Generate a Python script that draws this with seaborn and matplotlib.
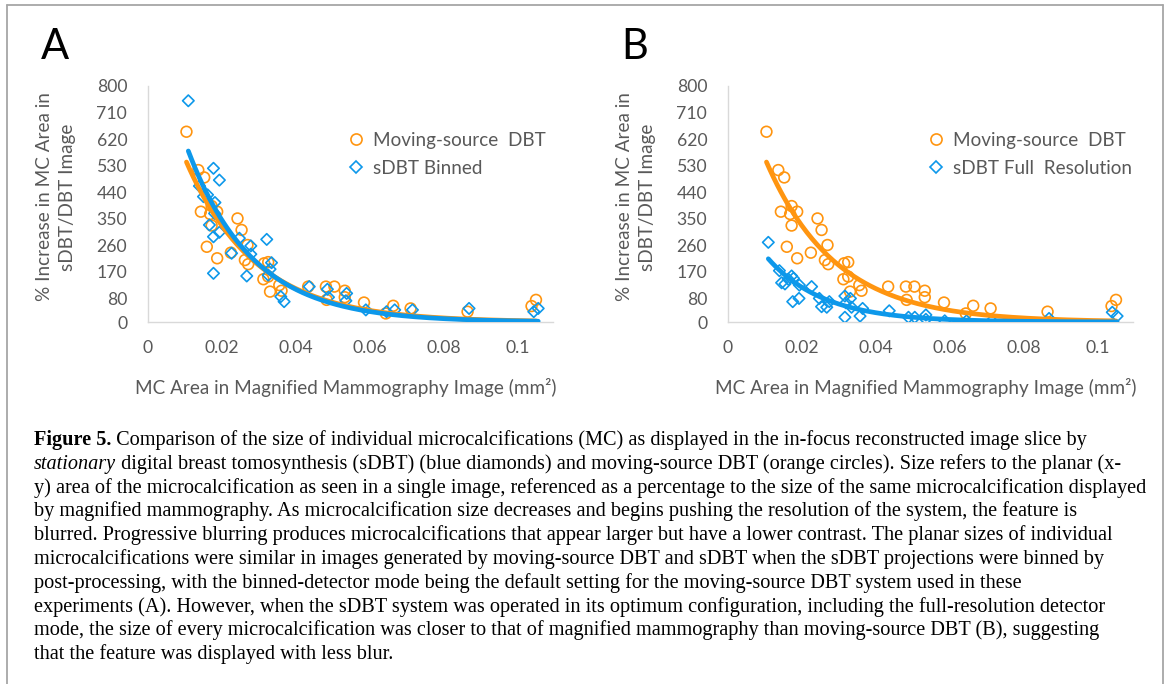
import numpy as np
import pandas as pd
import matplotlib
matplotlib.use("Agg")
import matplotlib.pyplot as plt
import seaborn as sns
from matplotlib.lines import Line2D

# ---------------- data ----------------
moving_x = [0.0104, 0.0136, 0.0152, 0.0143, 0.0172, 0.0168, 0.0187, 0.0172, 0.0159, 0.0187,
            0.0242, 0.0253, 0.0269, 0.0224, 0.0262, 0.0271, 0.0314, 0.0325, 0.0312, 0.0325,
            0.0330, 0.0355, 0.0361, 0.0433, 0.0481, 0.0504, 0.0483, 0.0532, 0.0532, 0.0584,
            0.0643, 0.0663, 0.0710, 0.0864, 0.1037, 0.1049]
moving_y = [645, 515, 490, 374, 393, 366, 374, 327, 255, 216,
            351, 312, 261, 235, 210, 196, 199, 203, 145, 154,
            103, 125, 106, 120, 120, 120, 75, 106, 84, 66,
            29, 55, 46, 35, 54, 75]

binned_x = [0.0109, 0.0177, 0.0193, 0.0139, 0.0150, 0.0161, 0.0181, 0.0180, 0.0166, 0.0193,
            0.0177, 0.0177, 0.0247, 0.0321, 0.0226, 0.0278, 0.0278, 0.0267, 0.0334, 0.0330,
            0.0325, 0.0359, 0.0368, 0.0436, 0.0485, 0.0488, 0.0537, 0.0535, 0.0589, 0.0645,
            0.0667, 0.0715, 0.0868, 0.1043, 0.1055]
binned_y = [750, 521, 481, 461, 425, 431, 405, 368, 329, 304,
            289, 165, 284, 280, 233, 258, 230, 156, 201, 179,
            159, 86, 69, 120, 111, 84, 97, 72, 41, 35,
            41, 41, 46, 35, 46]

full_x = [0.0109, 0.0139, 0.0145, 0.0154, 0.0172, 0.0177, 0.0163, 0.0193, 0.0175, 0.0192,
          0.0226, 0.0247, 0.0253, 0.0267, 0.0274, 0.0316, 0.0319, 0.0331, 0.0316, 0.0334,
          0.0364, 0.0357, 0.0436, 0.0488, 0.0505, 0.0535, 0.0535, 0.0586, 0.0645, 0.0713,
          0.0868, 0.1039, 0.1052]
full_y = [270, 174, 133, 129, 156, 148, 145, 125, 69, 80,
          120, 80, 52, 50, 69, 88, 65, 80, 16, 50,
          46, 20, 38, 16, 16, 24, 9, 4, 4, 4,
          12, 33, 20]

# exponential trendlines (y = a * exp(b * x))
trend_moving = (941.0, -53.0)
trend_binned = (1079.0, -57.0)
trend_full = (440.0, -66.0)

y_ticks = [0, 80, 170, 260, 350, 440, 530, 620, 710, 800]
x_ticks = [0, 0.02, 0.04, 0.06, 0.08, 0.1]
x_tick_labels = ["0", "0.02", "0.04", "0.06", "0.08", "0.1"]

label_moving = "Moving-source  DBT"
label_binned = "sDBT Binned"
label_full = "sDBT Full  Resolution"
y_label = "% Increase in MC Area in\nsDBT/DBT Image"
x_label = "MC Area in Magnified Mammography Image (mm\u00b2)"

caption_lines = [
    ("Figure 5.", " Comparison of the size of individual microcalcifications (MC) as displayed in the in-focus reconstructed image slice by", "bold"),
    ("stationary", " digital breast tomosynthesis (sDBT) (blue diamonds) and moving-source DBT (orange circles). Size refers to the planar (x-", "italic"),
    ("", "y) area of the microcalcification as seen in a single image, referenced as a percentage to the size of the same microcalcification displayed", None),
    ("", "by magnified mammography. As microcalcification size decreases and begins pushing the resolution of the system, the feature is", None),
    ("", "blurred. Progressive blurring produces microcalcifications that appear larger but have a lower contrast. The planar sizes of individual", None),
    ("", "microcalcifications were similar in images generated by moving-source DBT and sDBT when the sDBT projections were binned by", None),
    ("", "post-processing, with the binned-detector mode being the default setting for the moving-source DBT system used in these", None),
    ("", "experiments (A). However, when the sDBT system was operated in its optimum configuration, including the full-resolution detector", None),
    ("", "mode, the size of every microcalcification was closer to that of magnified mammography than moving-source DBT (B), suggesting", None),
    ("", "that the feature was displayed with less blur.", None),
]

# ---------------- style ----------------
sns.set_theme(style="white")
plt.rcParams["font.family"] = ["Lato", "DejaVu Sans"]
ORANGE = "#FF9510"
BLUE = "#0D98EA"
GRAY_TXT = "#595959"
AX_GRAY = "#D9D9D9"

W, H = 1170, 684
fig = plt.figure(figsize=(W / 100, H / 100), dpi=100)
fig.patch.set_facecolor("white")


def fx(px):
    return px / W


def fy(py):
    return 1 - py / H


def trend_curve(x, params):
    a, b = params
    xs = np.linspace(min(x), max(x), 200)
    return xs, a * np.exp(b * xs)


def panel(left_px, blue_x, blue_y, blue_trend, blue_label, letter, letter_px):
    ax = fig.add_axes([fx(left_px), fy(322), 405 / W, (322 - 86) / H])
    df_o = pd.DataFrame({"x": moving_x, "y": moving_y})
    df_b = pd.DataFrame({"x": blue_x, "y": blue_y})
    sns.scatterplot(data=df_o, x="x", y="y", ax=ax, marker="o", s=60,
                    facecolor="none", edgecolor=ORANGE, linewidth=1.2, legend=False, zorder=3)
    sns.scatterplot(data=df_b, x="x", y="y", ax=ax, marker="D", s=34,
                    facecolor="none", edgecolor=BLUE, linewidth=1.2, legend=False, zorder=3)
    xo, yo = trend_curve(moving_x, trend_moving)
    xb, yb = trend_curve(blue_x, blue_trend)
    sns.lineplot(x=xo, y=yo, ax=ax, color=ORANGE, lw=3.4, zorder=4)
    sns.lineplot(x=xb, y=yb, ax=ax, color=BLUE, lw=3.4, zorder=5)

    ax.set_xlim(0, 0.1095)
    ax.set_ylim(0, 800)
    ax.set_yticks(y_ticks)
    ax.set_yticklabels([str(t) for t in y_ticks])
    ax.set_xticks(x_ticks)
    ax.set_xticklabels(x_tick_labels)
    ax.tick_params(axis="both", length=0, labelsize=12.7, labelcolor=GRAY_TXT)
    ax.tick_params(axis="y", pad=15)
    ax.tick_params(axis="x", pad=13)
    for s in ["top", "right"]:
        ax.spines[s].set_visible(False)
    for s in ["left", "bottom"]:
        ax.spines[s].set_color(AX_GRAY)
        ax.spines[s].set_linewidth(1.0)
    ax.set_facecolor("white")
    ax.grid(False)

    ax.set_xlabel(x_label, fontsize=13.6, color=GRAY_TXT, va="center")
    ax.xaxis.set_label_coords(0.489, (322 - 387) / 236)
    ax.set_ylabel(y_label, fontsize=13.6, color=GRAY_TXT, va="center",
                  ha="center", multialignment="center", linespacing=1.42)
    ax.yaxis.set_label_coords(-0.228, 0.53)

    handles = [Line2D([], [], ls="", marker="o", mfc="none", mec=ORANGE, mew=1.2, ms=8),
               Line2D([], [], ls="", marker="D", mfc="none", mec=BLUE, mew=1.2, ms=6)]
    ax.legend(handles, [label_moving, blue_label], loc="upper left",
              bbox_to_anchor=((348.5 - 148) / 405, (322 - 132) / 236),
              frameon=False, fontsize=13.6, handlelength=0.8, handletextpad=0.5,
              borderpad=0, borderaxespad=0, labelspacing=0.56, labelcolor=GRAY_TXT)

    fig.text(fx(letter_px[0]), fy(letter_px[1]), letter, fontsize=30, color="black",
             ha="center", va="center")
    return ax


axA = panel(148, binned_x, binned_y, trend_binned, label_binned, "A", (55, 47))
axB = panel(728, full_x, full_y, trend_full, label_full, "B", (635, 47))

# frame around figure
frame_col = "#A6A6A6"
fig.add_artist(Line2D([fx(7), fx(7)], [0, fy(5)], color=frame_col, lw=1.3))
fig.add_artist(Line2D([fx(7), fx(1163)], [fy(5), fy(5)], color=frame_col, lw=1.3))
fig.add_artist(Line2D([fx(1163), fx(1163)], [0, fy(5)], color=frame_col, lw=1.3))

# caption
cap_family = ["Liberation Serif", "DejaVu Serif"]
cap_size = 14.55
renderer = fig.canvas.get_renderer()
for i, (lead, rest, style) in enumerate(caption_lines):
    ybase = fy(445 + 23.8 * i)
    x0 = fx(34)
    if lead:
        kw = {"fontweight": "bold"} if style == "bold" else {"fontstyle": "italic"}
        t = fig.text(x0, ybase, lead, fontsize=cap_size, family=cap_family,
                     color="black", va="baseline", ha="left", **kw)
        bb = t.get_window_extent(renderer=renderer)
        x0 = fx(bb.x1)
    fig.text(x0, ybase, rest, fontsize=cap_size, family=cap_family,
             color="black", va="baseline", ha="left")

fig.savefig("out.png", dpi=100)
